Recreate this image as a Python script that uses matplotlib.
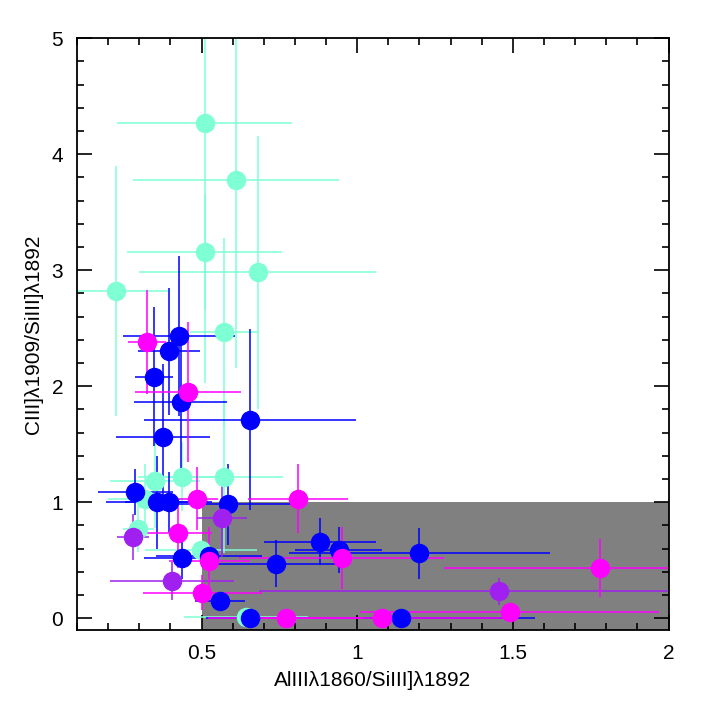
import matplotlib
matplotlib.use("Agg")
import matplotlib.pyplot as plt
from matplotlib.patches import Rectangle
from matplotlib.ticker import MultipleLocator, FixedLocator

plt.rcParams['font.family'] = ['Liberation Sans', 'DejaVu Sans']

# aquamarine sample
aq_x = [0.51, 0.61, 0.51, 0.68, 0.226, 0.573, 0.573, 0.436, 0.35, 0.32, 0.297, 0.497, 0.643]
aq_y = [4.27, 3.78, 3.16, 2.98, 2.82, 2.47, 1.22, 1.22, 1.18, 1.03, 0.77, 0.59, 0.01]
aq_xerr = [0.28, 0.33, 0.25, 0.38, 0.17, 0.11, 0.19, 0.14, 0.145, 0.12, 0.05, 0.18, 0.2]
aq_yerr = [2.24, 1.62, 0.5, 1.18, 1.08, 0.81, 0.66, 0.3, 0.4, 0.3, 0.2, 0.05, 0.02]

# blue sample
bl_x = [0.427, 0.395, 0.347, 0.433, 0.656, 0.376, 0.287, 0.357, 0.395, 0.586,
        0.88, 0.94, 0.74, 0.436, 0.525, 0.56, 0.656, 1.2, 1.14]
bl_y = [2.43, 2.30, 2.08, 1.86, 1.71, 1.56, 1.09, 1.00, 1.00, 0.98,
        0.66, 0.59, 0.47, 0.52, 0.54, 0.15, 0.00, 0.56, 0.00]
bl_xerr = [0.18, 0.10, 0.06, 0.15, 0.34, 0.15, 0.12, 0.165, 0.14, 0.21,
           0.18, 0.14, 0.235, 0.12, 0.17, 0.08, 0.14, 0.42, 0.43]
bl_yerr = [0.69, 0.55, 0.6, 0.6, 0.78, 0.63, 0.2, 0.4, 0.26, 0.35,
           0.2, 0.2, 0.2, 0.18, 0.1, 0.05, 0.03, 0.22, 0.02]

# purple sample
pu_x = [0.28, 0.565, 0.405, 1.455]
pu_y = [0.70, 0.86, 0.32, 0.23]
pu_xerr = [0.05, 0.08, 0.2, 0.77]
pu_yerr = [0.2, 0.33, 0.16, 0.12]

# magenta sample
mg_x = [0.325, 0.456, 0.484, 0.81, 0.425, 0.525, 0.95, 0.503, 0.77, 1.08, 1.49, 1.78]
mg_y = [2.38, 1.95, 1.03, 1.03, 0.73, 0.49, 0.52, 0.22, 0.00, 0.0, 0.05, 0.43]
mg_xerr = [0.06, 0.17, 0.07, 0.16, 0.11, 0.13, 0.33, 0.19, 0.25, 0.39, 0.48, 0.5]
mg_yerr = [0.45, 0.6, 0.27, 0.3, 0.3, 0.3, 0.27, 0.15, 0.02, 0.02, 0.03, 0.25]

fig = plt.figure(figsize=(7.06, 7.06), dpi=100)
ax = fig.add_axes([0.109, 0.108, 0.838, 0.838])

# shaded region
ax.add_patch(Rectangle((0.5, -0.1), 1.6, 1.1, color='#808080', zorder=0, lw=0))

series = [
    (aq_x, aq_y, aq_xerr, aq_yerr, '#7FFFD4'),
    (bl_x, bl_y, bl_xerr, bl_yerr, '#0000FF'),
    (pu_x, pu_y, pu_xerr, pu_yerr, '#A020F0'),
    (mg_x, mg_y, mg_xerr, mg_yerr, '#FF00FF'),
]
for x, y, xe, ye, c in series:
    ax.errorbar(x, y, xerr=xe, yerr=ye, fmt='o', color=c, ms=13,
                elinewidth=1.1, capsize=0, zorder=2)

ax.set_xlim(0.1, 2.0)
ax.set_ylim(-0.1, 5.0)

ax.xaxis.set_major_locator(FixedLocator([0.5, 1.0, 1.5, 2.0]))
ax.set_xticklabels(['0.5', '1', '1.5', '2'])
ax.xaxis.set_minor_locator(MultipleLocator(0.1))
ax.yaxis.set_major_locator(MultipleLocator(1))
ax.yaxis.set_minor_locator(MultipleLocator(0.2))

ax.tick_params(which='both', direction='in', top=True, right=True, width=1.2)
ax.tick_params(which='major', length=11, labelsize=15, pad=10)
ax.tick_params(which='minor', length=5)
for s in ax.spines.values():
    s.set_linewidth(1.3)

ax.set_xlabel('AlIIIλ1860/SiIII]λ1892', fontsize=15, labelpad=6)
ax.set_ylabel('CIII]λ1909/SiIII]λ1892', fontsize=15, labelpad=6)

fig.savefig('out.png', dpi=100)
